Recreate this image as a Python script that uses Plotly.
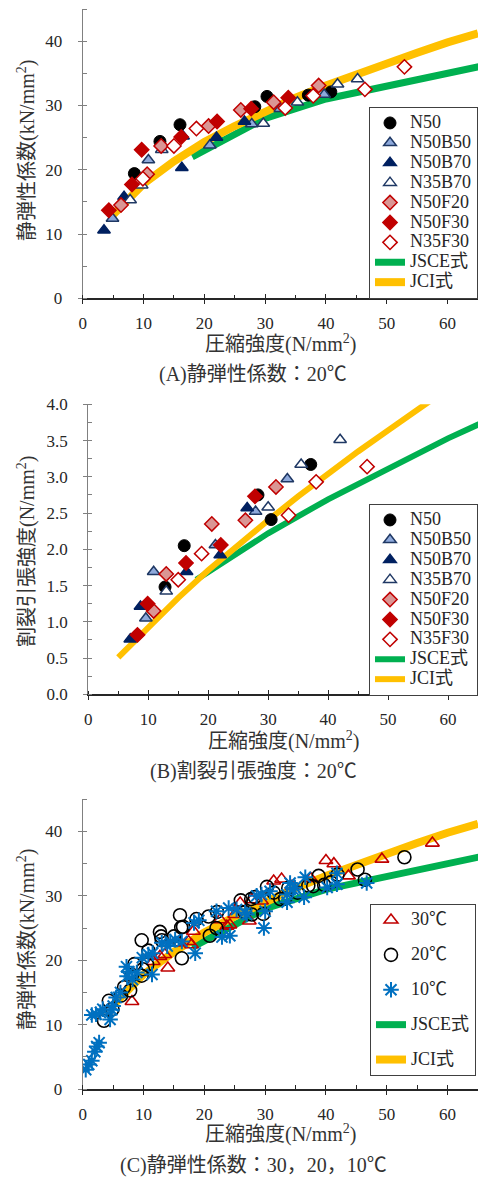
import plotly.graph_objects as go

W, H = 478, 1180
FONT = "Liberation Serif, Times New Roman, Noto Sans CJK JP, serif"

# ---------------- Panel A : static modulus at 20C ----------------
A_N50_x = [8.5, 12.7, 16.0, 28.3, 30.3, 37.1, 40.8]
A_N50_y = [19.4, 24.4, 27.0, 29.8, 31.4, 31.6, 32.1]
A_N50B50_x = [4.9, 10.8, 20.9, 27.8, 32.5, 39.7]
A_N50B50_y = [12.4, 21.5, 23.8, 27.1, 29.5, 31.7]
A_N50B70_x = [3.5, 6.8, 16.3, 16.5, 22.0, 26.6]
A_N50B70_y = [10.6, 15.8, 20.3, 25.2, 25.0, 27.5]
A_N35B70_x = [7.8, 9.7, 13.0, 29.7, 35.3, 41.9, 45.2]
A_N35B70_y = [15.3, 17.6, 23.1, 27.2, 30.5, 33.3, 34.1]
A_N50F20_x = [6.3, 10.6, 12.9, 20.7, 26.0, 31.4, 38.8]
A_N50F20_y = [14.5, 19.3, 23.7, 26.8, 29.3, 30.5, 33.1]
A_N50F30_x = [4.3, 8.1, 9.7, 16.2, 22.1, 27.7, 33.8]
A_N50F30_y = [13.7, 17.7, 23.1, 25.1, 27.5, 29.5, 31.2]
A_N35F30_x = [9.9, 15.0, 18.7, 33.3, 37.9, 46.4, 52.9]
A_N35F30_y = [18.6, 23.7, 26.4, 29.6, 31.5, 32.5, 36.0]

# design equations
JSCE_E_x = [18, 24, 30, 40, 50, 60, 70]
JSCE_E_y = [22, 25, 28, 31, 33, 35, 37]
JCI_E_x = [5, 10, 15, 20, 25, 30, 35, 40, 45, 50, 55, 60, 65]
JCI_E_y = [13.0, 17.8, 21.3, 24.3, 26.8, 29.1, 31.2, 33.1, 34.9, 36.6, 38.2, 39.8, 41.2]

# ---------------- Panel B : splitting tensile strength at 20C ----------------
B_N50_x = [12.8, 16.0, 28.3, 30.5, 37.1]
B_N50_y = [1.48, 2.05, 2.75, 2.41, 3.17]
B_N50B50_x = [9.6, 10.9, 21.2, 27.9, 33.2]
B_N50B50_y = [1.05, 1.69, 2.06, 2.52, 2.97]
B_N50B70_x = [7.0, 8.7, 16.4, 22.0, 26.5]
B_N50B70_y = [0.76, 1.21, 1.69, 1.92, 2.57]
B_N35B70_x = [13.0, 30.0, 35.5, 42.0]
B_N35B70_y = [1.42, 2.58, 3.17, 3.51]
B_N50F20_x = [10.9, 13.0, 20.6, 26.2, 31.3]
B_N50F20_y = [1.15, 1.66, 2.35, 2.40, 2.86]
B_N50F30_x = [8.2, 9.9, 16.3, 22.1, 27.8]
B_N50F30_y = [0.82, 1.25, 1.81, 2.06, 2.73]
B_N35F30_x = [15.0, 18.9, 33.4, 38.0, 46.5]
B_N35F30_y = [1.58, 1.94, 2.47, 2.93, 3.14]

JSCE_T_x = [18, 24, 30, 40, 50, 60, 70]
JSCE_T_y = [1.58, 1.91, 2.22, 2.69, 3.12, 3.53, 3.91]
JCI_T_x = [5, 10, 15, 20, 25, 30, 35, 40, 45, 50, 55, 60]
JCI_T_y = [0.51, 0.93, 1.33, 1.71, 2.06, 2.40, 2.73, 3.05, 3.35, 3.64, 3.93, 4.22]

# ---------------- Panel C : static modulus at 30/20/10C ----------------
C_30_x = [8.1, 11.6, 12.7, 13.5, 14.0, 16.0, 17.4, 17.9, 18.2, 22.6, 23.7, 24.2, 25.0,
          25.9, 27.4, 27.8, 29.4, 31.4, 32.7, 34.4, 37.5, 40.0, 41.3, 43.7, 49.2, 57.5]
C_30_y = [13.6, 19.8, 20.6, 20.9, 18.8, 22.7, 22.9, 22.4, 24.5, 26.3, 25.3, 25.5, 27.1,
          28.9, 26.1, 29.4, 29.2, 32.3, 32.6, 31.5, 32.7, 35.5, 35.0, 33.1, 35.7, 38.2]
C_20_x = A_N50_x + A_N50B50_x + A_N50B70_x + A_N35B70_x + A_N50F20_x + A_N50F30_x + A_N35F30_x
C_20_y = A_N50_y + A_N50B50_y + A_N50B70_y + A_N35B70_y + A_N50F20_y + A_N50F30_y + A_N35F30_y
C_10_x = [0.5, 1.0, 1.5, 2.0, 2.3, 2.7, 1.5, 2.2, 2.9, 3.3, 4.5, 4.8, 5.0, 5.5, 6.2,
          7.2, 7.3, 7.6, 8.2, 8.9, 9.8, 10.8, 11.4, 11.5, 13.0, 13.9, 14.4, 15.2, 16.3,
          18.5, 18.3, 19.1, 22.0, 22.9, 24.2, 24.0, 25.3, 26.7, 27.0, 28.6, 29.4, 30.0,
          29.8, 30.8, 33.6, 33.6, 34.1, 34.9, 34.6, 36.6, 36.4, 40.2, 41.8, 41.8, 46.7]
C_10_y = [3.0, 3.8, 4.4, 5.8, 6.6, 7.2, 11.5, 11.6, 11.9, 12.4, 10.8, 12.3, 12.9, 14.2, 15.0,
          19.0, 17.5, 18.2, 17.0, 18.1, 20.4, 20.9, 17.8, 21.1, 22.7, 22.2, 22.9, 23.2, 22.9,
          21.1, 25.8, 26.2, 27.6, 23.6, 23.8, 28.1, 27.9, 27.4, 27.1, 30.0, 30.2, 27.6,
          25.0, 30.7, 30.2, 29.0, 32.0, 31.3, 31.0, 32.9, 29.8, 31.3, 33.5, 31.8, 32.0]

X_TICKS = [0, 10, 20, 30, 40, 50, 60]

NAVY = "#1F3864"
DRED = "#C00000"
GREEN = "#00B050"
GOLD = "#FFC000"
BLUE = "#0070C0"

series_styles = {
    "N50": dict(symbol="circle", size=12, color="#000000", line=dict(color="#000000", width=1)),
    "N50B50": dict(symbol="triangle-up", size=11, color="#8EA9DB", line=dict(color=NAVY, width=1.5)),
    "N50B70": dict(symbol="triangle-up", size=11, color="#002060", line=dict(color="#002060", width=1.5)),
    "N35B70": dict(symbol="triangle-up", size=11, color="#FFFFFF", line=dict(color=NAVY, width=1.5)),
    "N50F20": dict(symbol="diamond", size=11, color="#DA9694", line=dict(color=DRED, width=1.5)),
    "N50F30": dict(symbol="diamond", size=11, color=DRED, line=dict(color=DRED, width=1.5)),
    "N35F30": dict(symbol="diamond", size=11, color="#FFFFFF", line=dict(color=DRED, width=1.5)),
}


def lg(name):
    return '<span style="font-size:18px">' + name + '</span>'


fig = go.Figure()

panels = [
    ("x", "y", "legend", JSCE_E_x, JSCE_E_y, JCI_E_x, JCI_E_y, 7, 8,
     [("N50", A_N50_x, A_N50_y), ("N50B50", A_N50B50_x, A_N50B50_y), ("N50B70", A_N50B70_x, A_N50B70_y),
      ("N35B70", A_N35B70_x, A_N35B70_y), ("N50F20", A_N50F20_x, A_N50F20_y),
      ("N50F30", A_N50F30_x, A_N50F30_y), ("N35F30", A_N35F30_x, A_N35F30_y)]),
    ("x2", "y2", "legend2", JSCE_T_x, JSCE_T_y, JCI_T_x, JCI_T_y, 6, 6,
     [("N50", B_N50_x, B_N50_y), ("N50B50", B_N50B50_x, B_N50B50_y), ("N50B70", B_N50B70_x, B_N50B70_y),
      ("N35B70", B_N35B70_x, B_N35B70_y), ("N50F20", B_N50F20_x, B_N50F20_y),
      ("N50F30", B_N50F30_x, B_N50F30_y), ("N35F30", B_N35F30_x, B_N35F30_y)]),
]

for xa, ya, leg, jx, jy, cx, cy, wg, wy, series in panels:
    fig.add_trace(go.Scatter(x=jx, y=jy, mode="lines", name=lg("JSCE式"), xaxis=xa, yaxis=ya,
                             legend=leg, legendrank=2001, line=dict(color=GREEN, width=wg)))
    fig.add_trace(go.Scatter(x=cx, y=cy, mode="lines", name=lg("JCI式"), xaxis=xa, yaxis=ya,
                             legend=leg, legendrank=2002, line=dict(color=GOLD, width=wy)))
    for i, (nm, sx, sy) in enumerate(series):
        st = series_styles[nm]
        fig.add_trace(go.Scatter(x=sx, y=sy, mode="markers", name=lg(nm), xaxis=xa, yaxis=ya,
                                 legend=leg, legendrank=1 + i,
                                 marker=dict(symbol=st["symbol"], size=st["size"], color=st["color"],
                                             line=st["line"])))

# Panel C
fig.add_trace(go.Scatter(x=JSCE_E_x, y=JSCE_E_y, mode="lines", name=lg("JSCE式"), xaxis="x3", yaxis="y3",
                         legend="legend3", legendgroup="g4", legendrank=2001, line=dict(color=GREEN, width=7)))
fig.add_trace(go.Scatter(x=JCI_E_x, y=JCI_E_y, mode="lines", name=lg("JCI式"), xaxis="x3", yaxis="y3",
                         legend="legend3", legendgroup="g5", legendrank=2002, line=dict(color=GOLD, width=8)))
fig.add_trace(go.Scatter(x=C_30_x, y=C_30_y, mode="markers", name=lg("30℃"), xaxis="x3", yaxis="y3",
                         legend="legend3", legendgroup="g1", legendrank=1,
                         marker=dict(symbol="triangle-up-open", size=12, color=DRED, line=dict(width=1.6))))
fig.add_trace(go.Scatter(x=C_20_x, y=C_20_y, mode="markers", name=lg("20℃"), xaxis="x3", yaxis="y3",
                         legend="legend3", legendgroup="g2", legendrank=2,
                         marker=dict(symbol="circle-open", size=13, color="#000000", line=dict(width=1.6))))
fig.add_trace(go.Scatter(x=C_10_x, y=C_10_y, mode="markers", name=lg("10℃"), xaxis="x3", yaxis="y3",
                         legend="legend3", legendgroup="g3", legendrank=3,
                         marker=dict(symbol="asterisk-open", size=13, color=BLUE,
                                     line=dict(color=BLUE, width=2))))

# empty traces so the overlay (inside major tick) axes are created
for k in range(4, 7):
    fig.add_trace(go.Scatter(x=[], y=[], xaxis="x%d" % k, yaxis="y%d" % k, showlegend=False,
                             hoverinfo="skip"))

TICKFONT = dict(family=FONT, size=17, color="#262626")
XAXC = "#262626"
YAXC = "#808080"


def px_to_x(p):
    return p / W


def py_to_y(p):
    return 1 - p / H


domains = {
    1: dict(x=[px_to_x(82.7), 1.0], y=[py_to_y(298.3), py_to_y(9.0)], yr=[0, 45], ydt=10, ymn=5, yfmt="d"),
    2: dict(x=[px_to_x(88.3), 1.0], y=[py_to_y(694.3), py_to_y(404.3)], yr=[0, 4], ydt=0.5, ymn=0.25, yfmt=".1f"),
    3: dict(x=[px_to_x(82.7), 1.0], y=[py_to_y(1089.0), py_to_y(799.3)], yr=[0, 45], ydt=10, ymn=5, yfmt="d"),
}

layout = dict(width=W, height=H, margin=dict(l=0, r=0, t=0, b=0, autoexpand=False),
              paper_bgcolor="white", plot_bgcolor="white", showlegend=True,
              font=dict(family=FONT, color="#262626"))

for k, d in domains.items():
    sx = "" if k == 1 else str(k)
    yid = "y" + sx
    xid = "x" + sx
    layout["xaxis" + sx] = dict(domain=d["x"], anchor=yid, range=[0, 65], tickvals=X_TICKS,
                                ticks="outside", ticklen=4, tickwidth=1, tickcolor=XAXC,
                                showline=True, linecolor=XAXC, linewidth=1.5, showgrid=False,
                                zeroline=False, tickfont=TICKFONT, ticklabelstandoff=5,
                                minor=dict(dtick=5, tick0=0, ticks="inside", ticklen=4, tickcolor=XAXC,
                                           showgrid=False))
    layout["yaxis" + sx] = dict(domain=d["y"], anchor=xid, range=d["yr"], dtick=d["ydt"], tick0=0,
                                tickformat=d["yfmt"],
                                ticks="outside", ticklen=4, tickwidth=1, tickcolor=YAXC,
                                showline=True, linecolor=YAXC, linewidth=1.3, showgrid=False,
                                zeroline=False, tickfont=TICKFONT, ticklabelstandoff=12,
                                minor=dict(dtick=d["ymn"], tick0=0, ticks="inside", ticklen=4,
                                           tickcolor=YAXC, showgrid=False))
    o = k + 3
    layout["xaxis%d" % o] = dict(overlaying=xid, anchor=yid, range=[0, 65], tickvals=X_TICKS,
                                 ticks="inside", ticklen=4, tickcolor=XAXC, showticklabels=False,
                                 showline=False, showgrid=False, zeroline=False)
    layout["yaxis%d" % o] = dict(overlaying=yid, anchor=xid, range=d["yr"], dtick=d["ydt"], tick0=0,
                                 ticks="inside", ticklen=4, tickcolor=YAXC, showticklabels=False,
                                 showline=False, showgrid=False, zeroline=False)

LEGFONT = dict(family=FONT, size=13, color="#262626")
leg_common = dict(xanchor="left", yanchor="top", bgcolor="rgba(255,255,255,1)", bordercolor="#404040",
                  borderwidth=1, font=LEGFONT, itemwidth=30)
layout["legend"] = dict(x=px_to_x(369), y=py_to_y(107), **leg_common)
layout["legend2"] = dict(x=px_to_x(369), y=py_to_y(504), **leg_common)
layout["legend3"] = dict(x=px_to_x(370), y=py_to_y(904), tracegroupgap=15, traceorder="grouped",
                         **leg_common)

ann_font = dict(family=FONT, size=20, color="#333333")
annotations = []


def ann(text, x, y, angle=0):
    annotations.append(dict(text=text, x=px_to_x(x), y=py_to_y(y), xref="paper", yref="paper",
                            xanchor="center", yanchor="middle", showarrow=False, textangle=angle,
                            font=ann_font))


ann("静弾性係数(kN/mm<sup>2</sup>)", 26, 151, -90)
ann("圧縮強度(N/mm<sup>2</sup>)", 280, 343)
ann("(A)静弾性係数：20℃", 253, 374)
ann("割裂引張強度(N/mm<sup>2</sup>)", 26, 552, -90)
ann("圧縮強度(N/mm<sup>2</sup>)", 283, 740)
ann("(B)割裂引張強度：20℃", 253, 771)
ann("静弾性係数(kN/mm<sup>2</sup>)", 26, 940, -90)
ann("圧縮強度(N/mm<sup>2</sup>)", 280, 1133)
ann("(C)静弾性係数：30，20，10℃", 253, 1165)
layout["annotations"] = annotations

fig.update_layout(**layout)
fig.write_html("out.html")
